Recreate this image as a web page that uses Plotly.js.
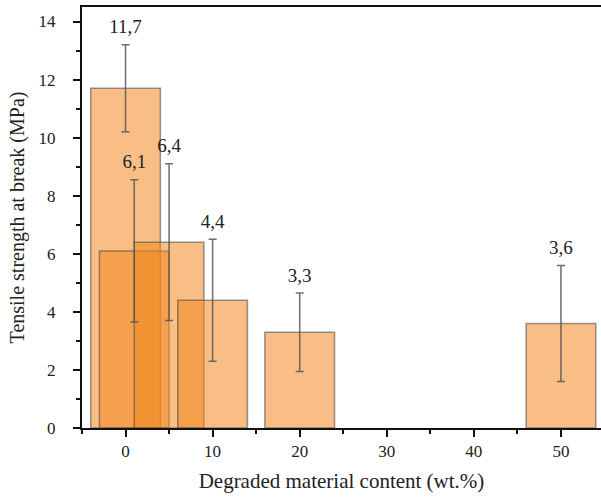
<!DOCTYPE html>
<html>
<head>
<meta charset="utf-8">
<script src="https://cdn.plot.ly/plotly-3.0.1.min.js"></script>
<style>
  html, body { margin: 0; padding: 0; background: #fff; }
  #chart { width: 601px; height: 498px; }
</style>
</head>
<body>
<div id="chart"></div>
<script>
// Degraded material content (wt.%) and measured tensile strength at break (MPa)
const content = [0, 1, 5, 10, 20, 50];
const strength = [11.7, 6.1, 6.4, 4.4, 3.3, 3.6];
const stdDev = [1.5, 2.45, 2.7, 2.1, 1.35, 2.0];
const barWidth = [8, 8, 8, 8, 8, 8];

const serif = "Liberation Serif, Times New Roman, serif";
const labels = strength.map(v => v.toFixed(1).replace('.', ','));
const labelY = strength.map((v, i) => v + stdDev[i]);

const bars = {
  type: 'bar',
  x: content,
  y: strength,
  width: barWidth,
  marker: {
    color: 'rgba(242,135,29,0.54)',
    line: { color: 'rgba(70,70,70,0.55)', width: 1.5 }
  },
  error_y: {
    type: 'data',
    array: stdDev,
    visible: true,
    color: 'rgba(85,85,85,0.85)',
    thickness: 1.5,
    width: 4
  },
  hoverinfo: 'skip'
};

// value labels sit just above each error-bar cap; the invisible marker sets the gap
const valueLabels = {
  type: 'scatter',
  mode: 'markers+text',
  x: content,
  y: labelY,
  text: labels,
  textposition: 'top center',
  marker: { size: 9, color: 'rgba(0,0,0,0)' },
  textfont: { family: serif, size: 19, color: '#222' },
  hoverinfo: 'skip',
  cliponaxis: false
};

const layout = {
  width: 601,
  height: 498,
  margin: { l: 82, r: 0, t: 7, b: 70 },
  paper_bgcolor: '#fff',
  plot_bgcolor: '#fff',
  showlegend: false,
  bargap: 0,
  xaxis: {
    range: [-5, 54.6],
    tickvals: [0, 10, 20, 30, 40, 50],
    ticks: 'outside',
    ticklen: 7,
    tickwidth: 2,
    tickcolor: '#111',
    minor: { dtick: 5, tick0: -5, ticks: 'outside', ticklen: 4, tickwidth: 2, tickcolor: '#111' },
    showline: true,
    linecolor: '#111',
    linewidth: 2,
    mirror: true,
    showgrid: false,
    zeroline: false,
    tickfont: { family: serif, size: 17, color: '#222' },
    title: { text: 'Degraded material content (wt.%)', font: { family: serif, size: 21, color: '#222' }, standoff: 13 }
  },
  yaxis: {
    range: [0, 14.5],
    tickvals: [0, 2, 4, 6, 8, 10, 12, 14],
    ticks: 'outside',
    ticklen: 7,
    tickwidth: 2,
    tickcolor: '#111',
    minor: { dtick: 1, tick0: 0, ticks: 'outside', ticklen: 4, tickwidth: 2, tickcolor: '#111' },
    showline: true,
    linecolor: '#111',
    linewidth: 2,
    showgrid: false,
    zeroline: false,
    ticklabelstandoff: 14,
    tickfont: { family: serif, size: 17, color: '#222' },
    title: { text: 'Tensile strength at break (MPa)', font: { family: serif, size: 20, color: '#222' }, standoff: 9 }
  }
};

Plotly.newPlot('chart', [bars, valueLabels], layout, { displayModeBar: false, staticPlot: true });
</script>
</body>
</html>
